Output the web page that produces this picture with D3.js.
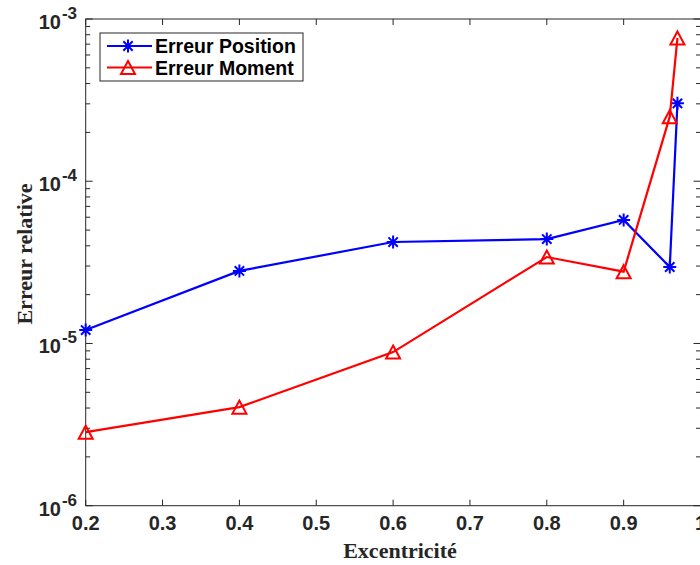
<!DOCTYPE html>
<html><head><meta charset="utf-8">
<script src="https://cdn.jsdelivr.net/npm/d3@7"></script>
<style>body{margin:0;background:#fff}svg{display:block}</style>
</head><body>
<script>
const excentricite = [0.2, 0.4, 0.6, 0.8, 0.9, 0.96, 0.97];
const erreurPosition = [1.21e-5, 2.80e-5, 4.22e-5, 4.40e-5, 5.77e-5, 2.96e-5, 3.02e-4];
const erreurMoment = [2.84e-6, 4.05e-6, 8.85e-6, 3.41e-5, 2.77e-5, 2.50e-4, 7.64e-4];
const xTicks = [0.2, 0.3, 0.4, 0.5, 0.6, 0.7, 0.8, 0.9, 1];
const yTickExps = [-6, -5, -4, -3];
const seriesNames = ["Erreur Position", "Erreur Moment"];

const W = 700, H = 565;
const L = 85.7, R = 700.5, T = 19, B = 505.7;
const svg = d3.select("body").append("svg").attr("width", W).attr("height", H);
const x = d3.scaleLinear().domain([0.2, 1]).range([L, R]);
const y = d3.scaleLog().domain([1e-6, 1e-3]).range([B, T]);
const axisCol = "#262626";

// minor ticks
const minor = [];
for (let e = -6; e < -3; e++) for (let k = 2; k <= 9; k++) minor.push(k * Math.pow(10, e));
const majors = yTickExps.map(e => Math.pow(10, e));

const g = svg.append("g");
minor.forEach(v => {
  g.append("line").attr("x1", L).attr("x2", L + 4.5).attr("y1", y(v)).attr("y2", y(v)).attr("stroke", axisCol);
  g.append("line").attr("x1", R).attr("x2", R - 4.5).attr("y1", y(v)).attr("y2", y(v)).attr("stroke", axisCol);
});
majors.forEach(v => {
  g.append("line").attr("x1", L).attr("x2", L + 7).attr("y1", y(v)).attr("y2", y(v)).attr("stroke", axisCol);
  g.append("line").attr("x1", R).attr("x2", R - 7).attr("y1", y(v)).attr("y2", y(v)).attr("stroke", axisCol);
});
xTicks.forEach(v => {
  g.append("line").attr("x1", x(v)).attr("x2", x(v)).attr("y1", B).attr("y2", B - 6).attr("stroke", axisCol);
  g.append("line").attr("x1", x(v)).attr("x2", x(v)).attr("y1", T).attr("y2", T + 6).attr("stroke", axisCol);
});
g.append("rect").attr("x", L).attr("y", T).attr("width", R - L).attr("height", B - T)
  .attr("fill", "none").attr("stroke", axisCol).attr("stroke-width", 1);

// x tick labels
xTicks.forEach(v => {
  g.append("text").attr("x", x(v)).attr("y", 530).attr("text-anchor", "middle")
    .attr("font-family", "Liberation Sans, Arial, sans-serif").attr("font-weight", "bold")
    .attr("font-size", 20).attr("fill", axisCol).text(String(v));
});
// y tick labels
yTickExps.forEach(e => {
  const yy = y(Math.pow(10, e));
  g.append("text").attr("x", 61).attr("y", yy + 10).attr("text-anchor", "end")
    .attr("font-family", "Liberation Sans, Arial, sans-serif").attr("font-weight", "bold")
    .attr("font-size", 20).attr("fill", axisCol).text("10");
  g.append("text").attr("x", 77).attr("y", yy).attr("text-anchor", "end")
    .attr("font-family", "Liberation Sans, Arial, sans-serif").attr("font-weight", "bold")
    .attr("font-size", 17).attr("fill", axisCol).text(String(e));
});

// axis labels
svg.append("text").attr("x", 400).attr("y", 558).attr("text-anchor", "middle")
  .attr("font-family", "Liberation Serif, Times New Roman, serif").attr("font-weight", "bold")
  .attr("font-size", 22).attr("fill", axisCol).text("Excentricité");
svg.append("text").attr("transform", "translate(32,254) rotate(-90)").attr("text-anchor", "middle")
  .attr("font-family", "Liberation Serif, Times New Roman, serif").attr("font-weight", "bold")
  .attr("font-size", 22).attr("fill", axisCol).text("Erreur relative");

function asterisk(sel, cx, cy, col) {
  const r = 6.5, d = r * 0.72;
  const p = `M${cx - r},${cy}L${cx + r},${cy}M${cx},${cy - r}L${cx},${cy + r}` +
    `M${cx - d},${cy - d}L${cx + d},${cy + d}M${cx - d},${cy + d}L${cx + d},${cy - d}`;
  sel.append("path").attr("d", p).attr("stroke", col).attr("stroke-width", 2).attr("fill", "none");
}
function triangle(sel, cx, cy, col) {
  const w = 7, h = 6.5;
  sel.append("path").attr("d", `M${cx},${cy - h}L${cx + w},${cy + h}L${cx - w},${cy + h}Z`)
    .attr("stroke", col).attr("stroke-width", 2).attr("fill", "none");
}

const line = d3.line().x(d => x(d[0])).y(d => y(d[1]));
const posData = excentricite.map((v, i) => [v, erreurPosition[i]]);
const momData = excentricite.map((v, i) => [v, erreurMoment[i]]);
const plot = svg.append("g");
plot.append("path").attr("d", line(posData)).attr("fill", "none").attr("stroke", "#0000ff").attr("stroke-width", 2.2);
posData.forEach(d => asterisk(plot, x(d[0]), y(d[1]), "#0000ff"));
plot.append("path").attr("d", line(momData)).attr("fill", "none").attr("stroke", "#ff0000").attr("stroke-width", 2.2);
momData.forEach(d => triangle(plot, x(d[0]), y(d[1]), "#ff0000"));

// legend
const lg = svg.append("g");
lg.append("rect").attr("x", 100).attr("y", 33).attr("width", 203).attr("height", 48)
  .attr("fill", "#fff").attr("stroke", axisCol).attr("stroke-width", 1);
const rows = [46, 67.5];
const cols = ["#0000ff", "#ff0000"];
rows.forEach((ry, i) => {
  lg.append("line").attr("x1", 107).attr("x2", 152).attr("y1", ry).attr("y2", ry)
    .attr("stroke", cols[i]).attr("stroke-width", 2.2);
  if (i === 0) asterisk(lg, 128, ry, cols[i]); else triangle(lg, 128, ry, cols[i]);
  lg.append("text").attr("x", 155).attr("y", ry + 7).attr("font-family", "Liberation Sans, Arial, sans-serif")
    .attr("font-weight", "bold").attr("font-size", 19.5).attr("fill", "#000").text(seriesNames[i]);
});
</script>
</body></html>
